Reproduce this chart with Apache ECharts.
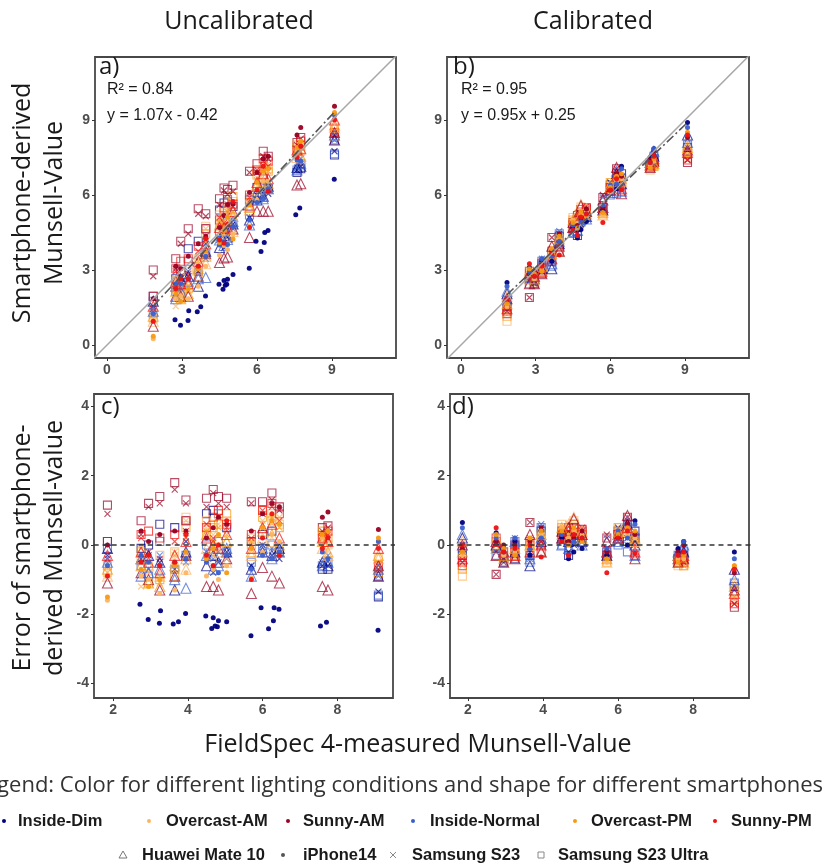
<!DOCTYPE html>
<html>
<head>
<meta charset="utf-8">
<script src="https://cdn.jsdelivr.net/npm/echarts@6/dist/echarts.min.js"></script>
<style>
  html, body { margin: 0; background: #fff; }
  #chart { width: 829px; height: 865px; }
</style>
</head>
<body>
<div id="chart"></div>
<script>
// FieldSpec 4 measured Munsell value of each sample column
const samples = [1.85, 2.75, 2.95, 3.25, 3.65, 3.95, 4.5, 4.68, 4.82, 5.04, 5.7, 6.0, 6.25, 6.45, 7.6, 7.75, 9.1];

const lights = ['Inside-Dim', 'Overcast-AM', 'Sunny-AM', 'Inside-Normal', 'Overcast-PM', 'Sunny-PM'];
const lightColors = ['#000080', '#fdb462', '#990022', '#3a5fcd', '#f59a14', '#ee1111'];

// errors (smartphone - FieldSpec), one row per lighting condition, uncalibrated
const huaweiU = [
  [-0.1, -0.4, -0.3, -0.5, -1.3, -0.2, -0.6, -0.3, -0.5, -0.2, -0.7, -0.2, -0.3, -0.1, -0.5, -0.6, -0.9],
  [-0.9, -0.4, -0.6, -0.9, -0.5, -0.7, -0.1, -0.4, -0.2, -0.5, -0.3, 0.2, 0.1, -0.2, -0.1, -0.3, -0.4],
  [-1.1, -0.8, -1.0, -1.3, -0.9, -0.3, -1.2, -1.2, -1.3, -0.4, -1.4, -0.65, -0.9, -1.1, -1.2, -1.3, -0.6],
  [-0.5, -0.9, -0.8, -0.7, -1.0, -1.25, -0.3, -0.7, -0.6, -0.1, -0.9, -0.1, -0.4, -0.2, -0.6, -0.5, -0.7],
  [-0.7, -0.6, -1.1, -1.2, -0.6, -0.4, 0.3, -0.1, 0.2, 0.1, -0.2, 0.4, 0.3, 0.0, 0.1, -0.2, -0.3],
  [-0.3, -0.2, -0.5, -0.8, -0.3, 0.1, 0.2, 0.0, -0.1, 0.3, -0.1, 0.5, 0.6, 0.2, 0.2, 0.1, -0.1]
];
const iphoneU = [
  null,
  [-1.6, -0.9, -1.0, -1.4, -1.3, -0.8, -0.9, -0.7, -1.0, -0.6, -0.95, -0.2, 0.3, 0.1, 0.2, 0.4, 0.1],
  [0.0, 0.4, 0.1, 0.3, 0.4, 0.4, 0.2, 0.5, 0.8, 0.6, 0.4, 0.9, 1.2, 1.1, 0.8, 0.95, 0.45],
  [-0.6, -0.3, -0.5, -0.6, -0.5, -0.4, -0.5, -0.6, -0.8, -0.3, -0.7, -0.3, -0.4, -0.2, -0.2, -0.4, 0.1],
  [-1.5, -0.7, -1.2, -1.0, -0.6, -0.2, -0.4, -0.1, 0.3, -0.8, -0.1, 0.5, 0.7, 0.6, 0.3, 0.4, 0.2],
  [-0.9, -0.5, -0.3, -0.6, -0.5, 0.3, -0.3, -0.6, 0.0, 0.7, -1.0, 0.2, 0.9, -0.3, -0.1, 0.2, -0.1]
];
// iPhone14 under Inside-Dim, uncalibrated: its own columns
const dimX = [2.72, 2.94, 3.24, 3.27, 3.61, 3.75, 3.94, 4.48, 4.64, 4.68, 4.73, 4.79, 4.82, 5.04, 5.69, 5.96, 6.16, 6.29, 6.31, 6.44, 7.55, 7.71, 9.09];
const dimErrU = [-1.71, -2.15, -2.26, -1.90, -2.28, -2.22, -1.98, -2.05, -2.41, -2.10, -2.34, -2.36, -2.19, -2.22, -2.62, -1.81, -2.42, -2.19, -1.81, -1.86, -2.34, -2.23, -2.46];
const s23U = [
  [-0.3, -0.4, -0.3, -0.5, -0.7, 0.1, -0.3, -0.8, -0.5, -0.2, -0.6, 0.0, -0.3, -0.4, -0.6, -0.6, -1.35],
  [-0.9, -1.2, -0.8, -1.1, -0.2, 0.7, 0.5, 0.3, 0.6, 0.2, 0.0, 0.7, 0.6, 0.8, 0.1, 0.0, -0.6],
  [0.9, 0.3, 1.1, 1.2, 1.6, 1.2, 1.1, 1.5, 1.2, 1.1, 1.2, 0.9, 1.3, 1.0, 0.4, 0.5, -0.7],
  [-0.5, -0.5, -0.7, -0.3, -0.6, -0.5, -0.2, -0.4, -0.2, -0.4, -0.6, -0.2, -0.1, 0.0, -0.5, -0.3, -0.9],
  [-0.8, -0.1, -0.5, -0.9, -0.3, 0.2, 0.4, 0.1, 0.5, 0.3, 0.1, 0.6, 0.8, 0.5, 0.3, 0.2, -0.5],
  [-0.4, 0.2, -0.2, -0.4, 0.1, 0.4, 0.6, 0.2, 0.8, 0.5, 0.2, 1.0, 1.1, 0.7, 0.2, 0.3, -0.6]
];
const ultraU = [
  [0.1, -0.1, 0.0, 0.6, 0.5, 0.7, 0.9, 1.0, 0.9, 0.5, 0.1, 0.3, 0.4, -0.2, -0.7, -0.7, -1.5],
  [-0.8, -0.4, -0.6, -0.3, -0.2, 0.8, 0.7, 0.6, 0.9, 0.7, 0.2, 1.0, 0.9, 0.6, 0.3, 0.0, -0.4],
  [1.15, 0.7, 1.2, 1.4, 1.8, 1.3, 1.35, 1.6, 1.4, 1.35, 1.25, 1.25, 1.5, 1.1, 0.5, 0.55, -0.9],
  [-0.1, -0.6, -0.9, 0.1, -0.7, -0.3, 0.0, -0.2, 0.1, -0.2, -0.5, -0.1, 0.0, -0.2, -0.6, -0.5, -1.45],
  [-0.6, -0.2, -1.1, -1.0, -0.9, 0.5, 0.3, 0.5, 0.6, 0.9, 0.0, 0.8, 0.7, 0.5, 0.4, 0.2, -0.8],
  [0.1, 0.3, 0.4, 0.2, 0.3, 0.7, 0.5, 0.8, 1.0, 0.6, 0.3, 1.0, 1.2, 0.9, 0.2, 0.4, -0.6]
];

// errors after calibration
const huaweiC = [
  [0.2, 0.0, -0.3, -0.2, -0.6, 0.1, 0.2, 0.1, 0.3, 0.1, -0.3, 0.2, 0.6, 0.0, -0.3, -0.2, -0.7],
  [0.1, 0.2, -0.4, -0.3, 0.1, -0.2, 0.3, 0.6, 0.8, 0.4, -0.5, 0.4, 0.5, 0.1, -0.4, -0.3, -1.1],
  [0.0, -0.3, -0.5, -0.4, 0.3, -0.2, 0.4, 0.5, 0.75, 0.3, 0.1, 0.3, 0.85, -0.4, -0.5, -0.4, -1.3],
  [0.3, 0.1, -0.2, 0.1, -0.4, 0.2, 0.0, -0.1, 0.2, 0.0, -0.2, 0.1, 0.7, -0.3, -0.2, 0.0, -1.0],
  [-0.2, -0.1, -0.3, -0.1, 0.0, 0.3, 0.5, 0.2, 0.4, 0.2, -0.4, 0.3, 0.4, 0.2, -0.3, -0.5, -1.2],
  [-0.4, 0.1, -0.2, -0.3, -0.2, 0.0, 0.2, 0.4, 0.3, 0.3, -0.2, 0.2, 0.5, -0.2, -0.4, -0.3, -1.4]
];
const iphoneC = [
  [0.65, 0.35, -0.1, 0.1, -0.3, 0.4, 0.2, -0.4, -0.2, -0.1, -0.3, 0.3, 0.0, 0.7, -0.1, 0.1, -0.2],
  [-0.3, 0.2, -0.3, -0.2, 0.0, 0.3, 0.5, 0.2, 0.4, 0.3, -0.5, 0.4, 0.3, 0.2, -0.4, -0.4, -0.6],
  [-0.1, 0.1, 0.0, 0.0, 0.1, 0.5, 0.3, 0.1, 0.2, 0.4, -0.2, 0.2, 0.6, 0.3, -0.2, 0.0, -0.8],
  [0.5, 0.2, -0.2, 0.2, -0.1, 0.2, 0.3, -0.3, 0.1, 0.2, -0.1, 0.4, 0.2, 0.6, -0.3, 0.1, -0.4],
  [-0.2, 0.3, -0.1, -0.3, 0.2, 0.4, 0.4, 0.0, 0.5, 0.1, -0.4, 0.3, 0.5, 0.4, -0.5, -0.3, -0.6],
  [0.0, 0.5, -0.2, -0.1, 0.0, -0.35, 0.1, -0.3, 0.3, 0.2, -0.8, 0.2, 0.4, -0.25, -0.3, -0.2, -0.7]
];
const s23C = [
  [-0.2, 0.0, -0.5, -0.3, -0.2, 0.5, 0.1, -0.2, 0.0, 0.2, -0.1, 0.5, 0.2, 0.3, -0.3, -0.4, -1.3],
  [-0.6, 0.1, -0.3, -0.4, -0.1, 0.3, 0.5, 0.3, 0.3, 0.1, -0.3, 0.3, 0.3, 0.0, -0.5, -0.5, -1.6],
  [-0.5, -0.85, -0.4, 0.1, 0.65, 0.1, 0.3, 0.4, 0.5, 0.4, 0.3, 0.2, 0.7, 0.1, -0.4, -0.3, -1.7],
  [0.0, -0.2, -0.4, 0.2, -0.4, 0.6, 0.2, 0.0, 0.1, 0.3, 0.2, 0.1, 0.0, 0.1, -0.2, -0.1, -1.2],
  [-0.3, 0.2, -0.2, -0.2, 0.1, 0.2, 0.4, 0.6, 0.5, 0.2, -0.2, 0.4, 0.3, 0.2, -0.4, -0.6, -1.5],
  [-0.4, 0.0, -0.3, 0.0, 0.2, 0.1, 0.3, 0.2, 0.4, 0.5, -0.1, 0.3, 0.8, 0.0, -0.3, -0.5, -1.7]
];
const ultraC = [
  [-0.3, -0.1, -0.4, -0.4, -0.3, 0.4, 0.2, -0.3, 0.1, 0.2, -0.2, 0.4, 0.1, 0.4, -0.4, -0.3, -1.2],
  [-0.9, 0.0, -0.4, -0.3, -0.2, 0.2, 0.6, 0.4, 0.7, 0.3, -0.4, 0.4, 0.4, 0.1, -0.6, -0.6, -1.6],
  [-0.6, -0.85, -0.5, 0.0, 0.65, 0.0, 0.4, 0.5, 0.6, 0.45, 0.2, 0.3, 0.8, 0.2, -0.5, -0.4, -1.8],
  [-0.1, -0.3, -0.5, 0.1, -0.5, 0.5, 0.0, -0.1, 0.2, 0.1, -0.3, 0.0, -0.2, 0.2, -0.3, -0.2, -1.1],
  [-0.7, 0.1, -0.3, -0.3, 0.0, 0.3, 0.5, 0.4, 0.6, 0.3, -0.5, 0.5, 0.5, 0.1, -0.5, -0.6, -1.4],
  [-0.5, 0.2, -0.2, -0.2, 0.1, -0.2, 0.3, 0.3, 0.5, 0.4, -0.3, 0.3, 0.6, -0.3, -0.4, -0.5, -1.7]
];

// regression fits printed on the panels
const fitU = { slope: 1.07, intercept: -0.42, r2: '0.84' };
const fitC = { slope: 0.95, intercept: 0.25, r2: '0.95' };
const fitRange = [1.85, 9.1];

const tickTop = [0, 3, 6, 9];
const tickBottomX = [2, 4, 6, 8];
const tickBottomY = [-4, -2, 0, 2, 4];

// drawing order: squares, crosses, triangles, dots
const phones = [
  { name: 'Samsung S23 Ultra', symbol: 'rect', size: 8, open: true, u: ultraU, c: ultraC },
  { name: 'Samsung S23', symbol: 'path://M0,0L10,10M10,0L0,10', size: 6, open: true, u: s23U, c: s23C },
  { name: 'Huawei Mate 10', symbol: 'triangle', size: 10, open: true, u: huaweiU, c: huaweiC },
  { name: 'iPhone14', symbol: 'circle', size: 5, open: false, u: iphoneU, c: iphoneC }
];

const r2 = v => Math.round(v * 100) / 100;

const series = [];
// panel index: 0 = a, 1 = b, 2 = c, 3 = d
function pushPoints(panel, xs, errs, phone, li, isError) {
  const data = xs.map((x, i) => [x, isError ? errs[i] : r2(x + errs[i])]);
  const col = lightColors[li];
  series.push({
    type: 'scatter',
    xAxisIndex: panel,
    yAxisIndex: panel,
    symbol: phone.symbol,
    symbolSize: phone.size,
    silent: true,
    data: data,
    itemStyle: phone.open
      ? { color: 'rgba(0,0,0,0)', borderColor: col, borderWidth: 1.1, opacity: 0.7 }
      : { color: col, opacity: 0.95 }
  });
}

phones.forEach(ph => {
  lights.forEach((l, li) => {
    if (ph.name === 'iPhone14' && li === 0) {
      pushPoints(0, dimX, dimErrU, ph, li, false);
      pushPoints(2, dimX, dimErrU, ph, li, true);
    } else {
      pushPoints(0, samples, ph.u[li], ph, li, false);
      pushPoints(2, samples, ph.u[li], ph, li, true);
    }
    pushPoints(1, samples, ph.c[li], ph, li, false);
    pushPoints(3, samples, ph.c[li], ph, li, true);
  });
});

// 1:1 lines
[0, 1].forEach(p => {
  series.push({
    type: 'line', xAxisIndex: p, yAxisIndex: p, silent: true, showSymbol: false, z: 5,
    data: [[-1, -1], [12, 12]],
    lineStyle: { color: '#a8a8a8', width: 1.5 }
  });
});
// fitted lines
[[0, fitU], [1, fitC]].forEach(([p, f]) => {
  series.push({
    type: 'line', xAxisIndex: p, yAxisIndex: p, silent: true, showSymbol: false, z: 6,
    data: fitRange.map(x => [x, r2(f.slope * x + f.intercept)]),
    lineStyle: { color: '#555', width: 1.6, type: [9, 3, 2, 3] }
  });
});
// zero lines
[2, 3].forEach(p => {
  series.push({
    type: 'line', xAxisIndex: p, yAxisIndex: p, silent: true, showSymbol: false, z: 6,
    data: [[1, 0], [10, 0]],
    lineStyle: { color: '#333', width: 1.6, type: [5, 4] }
  });
});

const grids = [
  { left: 95, top: 57, width: 301, height: 301 },
  { left: 447, top: 57, width: 302, height: 301 },
  { left: 94, top: 394, width: 299, height: 304 },
  { left: 450, top: 394, width: 299, height: 304 }
];
const xRanges = [[-0.48, 11.56], [-0.56, 11.57], [1.49, 9.49], [1.52, 9.49]];
const yRanges = [[-0.52, 11.52], [-0.52, 11.52], [-4.42, 4.36], [-4.42, 4.36]];

const labelStyle = { color: '#4d4d4d', fontWeight: 'bold', fontSize: 14, fontFamily: 'Liberation Sans' };

function axis(range, ticks) {
  return {
    type: 'value',
    min: range[0],
    max: range[1],
    splitLine: { show: false },
    axisLine: { show: false, onZero: false },
    axisTick: { show: true, length: 3, customValues: ticks, lineStyle: { color: '#333', width: 1 } },
    axisLabel: Object.assign({ margin: 5, customValues: ticks }, labelStyle)
  };
}

const txt = (x, y, text, size, opts) => Object.assign({
  type: 'text', x: x, y: y, silent: true,
  style: Object.assign({
    text: text, fontSize: size, fontFamily: 'Open Sans', fill: '#1a1a1a',
    align: 'left', verticalAlign: 'middle'
  }, (opts && opts.style) || {})
}, (opts && opts.el) || {});

const legendFont = { fontFamily: 'Liberation Sans', fontWeight: 'bold', fill: '#1a1a1a' };

const graphic = [
  txt(239, 22, 'Uncalibrated', 25, { style: { align: 'center' } }),
  txt(593, 22, 'Calibrated', 25, { style: { align: 'center' } }),
  txt(39, 203, 'Smartphone-derived\nMunsell-Value', 25, { style: { align: 'center', lineHeight: 32 }, el: { rotation: Math.PI / 2 } }),
  txt(39, 548, 'Error of smartphone-\nderived Munsell-value', 25, { style: { align: 'center', lineHeight: 32 }, el: { rotation: Math.PI / 2 } }),
  txt(418, 745, 'FieldSpec 4-measured Munsell-Value', 25, { style: { align: 'center' } }),
  txt(99, 67, 'a)', 24),
  txt(453, 67, 'b)', 24),
  txt(101, 407, 'c)', 24),
  txt(452, 407, 'd)', 24),
  txt(107, 90, 'R\u00b2 = ' + fitU.r2, 16, { style: { fontFamily: 'Liberation Sans' } }),
  txt(107, 116, 'y = 1.07x - 0.42', 16, { style: { fontFamily: 'Liberation Sans' } }),
  txt(461, 90, 'R\u00b2 = ' + fitC.r2, 16, { style: { fontFamily: 'Liberation Sans' } }),
  txt(461, 116, 'y = 0.95x + 0.25', 16, { style: { fontFamily: 'Liberation Sans' } }),
  txt(823, 786, 'Legend: Color for different lighting conditions and shape for different smartphones', 22, { style: { align: 'right', fill: '#333' } })
];

// legend row 1: lighting colours
const row1X = [4, 149, 288, 413, 575, 715];
const row1TextX = [18, 166, 303, 430, 591, 731];
lights.forEach((l, i) => {
  graphic.push({ type: 'circle', silent: true, shape: { cx: row1X[i], cy: 821, r: 2 }, style: { fill: lightColors[i] } });
  graphic.push(txt(row1TextX[i], 821, l, 16.5, { style: legendFont }));
});
// legend row 2: phone shapes
const legendPhones = ['Huawei Mate 10', 'iPhone14', 'Samsung S23', 'Samsung S23 Ultra'];
const row2X = [123, 283, 393, 541];
const row2TextX = [142, 303, 412, 558];
const gy = 855;
graphic.push({ type: 'polygon', silent: true, shape: { points: [[row2X[0], gy - 4], [row2X[0] + 4, gy + 3], [row2X[0] - 4, gy + 3]] }, style: { fill: 'none', stroke: '#777', lineWidth: 1 } });
graphic.push({ type: 'circle', silent: true, shape: { cx: row2X[1], cy: gy, r: 2 }, style: { fill: '#555' } });
graphic.push({ type: 'line', silent: true, shape: { x1: row2X[2] - 3, y1: gy - 3, x2: row2X[2] + 3, y2: gy + 3 }, style: { stroke: '#888', lineWidth: 1 } });
graphic.push({ type: 'line', silent: true, shape: { x1: row2X[2] - 3, y1: gy + 3, x2: row2X[2] + 3, y2: gy - 3 }, style: { stroke: '#888', lineWidth: 1 } });
graphic.push({ type: 'rect', silent: true, shape: { x: row2X[3] - 3, y: gy - 3, width: 6, height: 6 }, style: { fill: 'none', stroke: '#888', lineWidth: 1 } });
legendPhones.forEach((p, i) => graphic.push(txt(row2TextX[i], gy, p, 16.5, { style: legendFont })));

const chart = echarts.init(document.getElementById('chart'));
chart.setOption({
  animation: false,
  backgroundColor: '#fff',
  grid: grids.map(g => Object.assign({ show: true, borderColor: '#474747', borderWidth: 1.8, backgroundColor: '#fff' }, g)),
  xAxis: [axis(xRanges[0], tickTop), axis(xRanges[1], tickTop), axis(xRanges[2], tickBottomX), axis(xRanges[3], tickBottomX)]
    .map((a, i) => Object.assign(a, { gridIndex: i })),
  yAxis: [axis(yRanges[0], tickTop), axis(yRanges[1], tickTop), axis(yRanges[2], tickBottomY), axis(yRanges[3], tickBottomY)]
    .map((a, i) => Object.assign(a, { gridIndex: i })),
  series: series,
  graphic: graphic
});
</script>
</body>
</html>
